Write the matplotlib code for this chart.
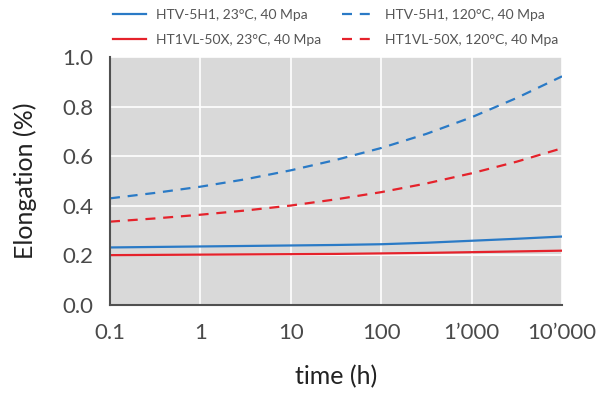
import matplotlib
matplotlib.use("Agg")
import matplotlib.pyplot as plt
from matplotlib.ticker import FixedLocator, NullLocator

plt.rcParams['font.family'] = ['Lato', 'DejaVu Sans']

time_h = [0.1, 0.316, 1, 3.16, 10, 31.6, 100, 316, 1000, 3162, 10000]
htv_23 = [0.232, 0.234, 0.236, 0.238, 0.240, 0.242, 0.245, 0.251, 0.259, 0.267, 0.276]
ht1_23 = [0.201, 0.202, 0.203, 0.204, 0.205, 0.206, 0.208, 0.210, 0.213, 0.216, 0.219]
htv_120 = [0.430, 0.452, 0.477, 0.507, 0.543, 0.585, 0.633, 0.690, 0.757, 0.835, 0.922]
ht1_120 = [0.336, 0.349, 0.364, 0.381, 0.401, 0.426, 0.455, 0.490, 0.531, 0.578, 0.632]

x_ticks = [0.1, 1, 10, 100, 1000, 10000]
x_ticklabels = ["0.1", "1", "10", "100", "1\u2019000", "10\u2019000"]
y_ticks = [0.0, 0.2, 0.4, 0.6, 0.8, 1.0]
y_ticklabels = ["0.0", "0.2", "0.4", "0.6", "0.8", "1.0"]

labels = ["HTV-5H1, 23\u00b0C, 40 Mpa", "HT1VL-50X, 23\u00b0C, 40 Mpa",
          "HTV-5H1, 120\u00b0C, 40 Mpa", "HT1VL-50X, 120\u00b0C, 40 Mpa"]

BLUE = "#2a7ac6"
RED = "#e5222b"
TXT = "#4a4a4a"

fig = plt.figure(figsize=(6.02, 3.98), dpi=100)
ax = fig.add_axes([0.1827, 0.2337, 0.7509, 0.6231])
ax.set_facecolor("#d9d9d9")

lw = 1.6
l1, = ax.plot(time_h, htv_23, color=BLUE, lw=lw)
l2, = ax.plot(time_h, ht1_23, color=RED, lw=lw)
l3, = ax.plot(time_h, htv_120, color=BLUE, lw=lw, dashes=(4.5, 3.5))
l4, = ax.plot(time_h, ht1_120, color=RED, lw=lw, dashes=(4.5, 3.5))

ax.set_xscale("log")
ax.set_xlim(0.1, 10000)
ax.set_ylim(0.0, 1.0)
ax.xaxis.set_major_locator(FixedLocator(x_ticks))
ax.xaxis.set_minor_locator(NullLocator())
ax.set_xticklabels(x_ticklabels)
ax.set_yticks(y_ticks)
ax.set_yticklabels(y_ticklabels)

ax.grid(True, color="white", lw=1.2)
ax.set_axisbelow(True)
for s in ["top", "right"]:
    ax.spines[s].set_visible(False)
for s in ["left", "bottom"]:
    ax.spines[s].set_color("#505050")
    ax.spines[s].set_linewidth(1.5)

ax.tick_params(axis="x", length=0, labelsize=16, colors=TXT, pad=13)
ax.tick_params(axis="y", length=0, labelsize=16, colors=TXT, pad=12)
ax.set_xlabel("time (h)", fontsize=18, color="#222222", labelpad=16)
ax.set_ylabel("Elongation (%)", fontsize=18, color="#222222", labelpad=18)

fig.legend([l1, l2, l3, l4], labels,
           ncol=2, loc="upper left", bbox_to_anchor=(0.172, 1.0),
           frameon=False, fontsize=10, labelcolor="#555555",
           handlelength=2.4, handletextpad=0.7, columnspacing=1.5,
           labelspacing=0.95, borderaxespad=0.25)

fig.savefig("out.png", dpi=100)
